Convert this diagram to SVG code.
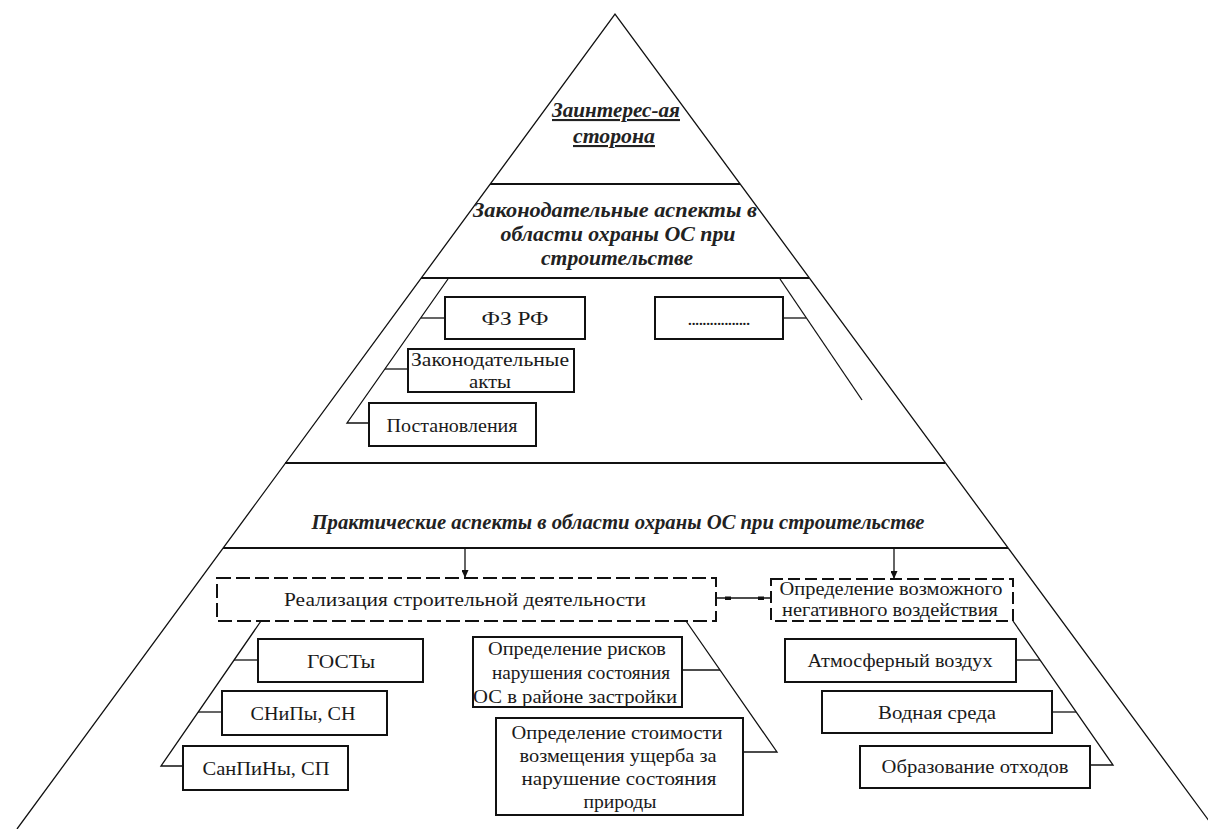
<svg xmlns="http://www.w3.org/2000/svg" width="1208" height="829" viewBox="0 0 1208 829" font-family="Liberation Serif, DejaVu Serif, serif">
<defs>
<style>
.edge{stroke:#111;stroke-width:1.3;fill:none}
.band{stroke:#111;stroke-width:1.8;fill:none}
.ln{stroke:#111;stroke-width:1.3;fill:none}
.box{fill:#fff;stroke:#111;stroke-width:2}
.dbox{fill:#fff;stroke:#111;stroke-width:2;stroke-dasharray:14 5}
.t{font-size:19px;fill:#1a1a1a;text-anchor:middle}
.h{font-style:italic;font-weight:bold;font-size:21px;fill:#222;text-anchor:middle}
.u{text-decoration:underline}
</style>
<marker id="arr" viewBox="0 0 8 7" refX="8" refY="3.5" markerWidth="8" markerHeight="7" markerUnits="userSpaceOnUse" orient="auto">
<path d="M0,0 L8,3.5 L0,7 z" fill="#111"/>
</marker>
</defs>
<rect width="1208" height="829" fill="#fff"/>

<g id="pyramid">
<path class="edge" d="M17,829 L615,14 L1215,829"/>
<line class="band" x1="490" y1="184" x2="740" y2="184"/>
<line class="band" x1="421" y1="278" x2="809" y2="278"/>
<line class="band" x1="285" y1="463" x2="945" y2="463"/>
<line class="band" x1="223" y1="548" x2="1008" y2="548"/>
</g>

<g id="top">
<text class="h u" x="616" y="117" textLength="128" lengthAdjust="spacingAndGlyphs">Заинтерес-ая</text>
<text class="h u" x="614" y="143" textLength="82" lengthAdjust="spacingAndGlyphs">сторона</text>
</g>

<g id="legal">
<text class="h" x="615" y="217" textLength="284" lengthAdjust="spacingAndGlyphs">Законодательные аспекты в</text>
<text class="h" x="618" y="241" textLength="235" lengthAdjust="spacingAndGlyphs">области охраны ОС при</text>
<text class="h" x="617" y="265" textLength="152" lengthAdjust="spacingAndGlyphs">строительстве</text>
</g>

<g id="practical">
<text class="h" x="618" y="529" font-size="22" textLength="613" lengthAdjust="spacingAndGlyphs">Практические аспекты в области охраны ОС при строительстве</text>
</g>

<g id="connectors">
<path class="ln" d="M448,279 L347,423 L369,423"/>
<line class="ln" x1="421" y1="318" x2="445" y2="318"/>
<line class="ln" x1="385" y1="369" x2="408" y2="369"/>
<path class="ln" d="M780,279 L862,400"/>
<line class="ln" x1="783" y1="318" x2="806" y2="318"/>

<line class="ln" x1="465" y1="548" x2="465" y2="578" marker-end="url(#arr)"/>
<line class="ln" x1="894" y1="548" x2="894" y2="579" marker-end="url(#arr)"/>
<line class="ln" x1="716" y1="598" x2="771" y2="598"/>
<rect x="725" y="596.5" width="6" height="3.5" fill="#111"/>
<rect x="758" y="596.5" width="6" height="3.5" fill="#111"/>

<path class="ln" d="M261,621 L161,766 L183,766"/>
<line class="ln" x1="234" y1="660" x2="258" y2="660"/>
<line class="ln" x1="198" y1="712" x2="222" y2="712"/>

<path class="ln" d="M686,621 L777,752 L743,752"/>
<line class="ln" x1="682" y1="670" x2="720" y2="670"/>

<path class="ln" d="M1013,621 L1113,765 L1090,765"/>
<line class="ln" x1="1016" y1="660" x2="1040" y2="660"/>
<line class="ln" x1="1052" y1="712" x2="1076" y2="712"/>
</g>

<g id="fz">
<rect class="box" x="445" y="297" width="140" height="42"/>
<text class="t" x="515" y="325" textLength="67" lengthAdjust="spacingAndGlyphs">ФЗ РФ</text>
</g>
<g id="zakon">
<rect class="box" x="408" y="349" width="166" height="43"/>
<text class="t" x="490" y="366" textLength="158" lengthAdjust="spacingAndGlyphs">Законодательные</text>
<text class="t" x="490" y="388" textLength="42" lengthAdjust="spacingAndGlyphs">акты</text>
</g>
<g id="postanov">
<rect class="box" x="369" y="403" width="167" height="43"/>
<text class="t" x="452" y="432" textLength="131" lengthAdjust="spacingAndGlyphs">Постановления</text>
</g>
<g id="dots">
<rect class="box" x="655" y="297" width="128" height="42"/>
<text class="t" x="719" y="325" font-size="14" fill="#666" textLength="63" lengthAdjust="spacing">.................</text>
</g>

<g id="realiz">
<rect class="dbox" x="217" y="578" width="499" height="43"/>
<text class="t" x="465" y="606" textLength="362" lengthAdjust="spacingAndGlyphs">Реализация строительной деятельности</text>
</g>
<g id="opred">
<rect class="dbox" x="771" y="579" width="242" height="42" style="stroke-dasharray:12 5"/>
<text class="t" x="891" y="595" font-size="17" textLength="223" lengthAdjust="spacingAndGlyphs">Определение возможного</text>
<text class="t" x="890" y="616" font-size="17" textLength="216" lengthAdjust="spacingAndGlyphs">негативного воздействия</text>
</g>

<g id="gost">
<rect class="box" x="258" y="639" width="165" height="43"/>
<text class="t" x="341" y="668" textLength="68" lengthAdjust="spacingAndGlyphs">ГОСТы</text>
</g>
<g id="snip">
<rect class="box" x="222" y="691" width="165" height="44"/>
<text class="t" x="303" y="720" textLength="105" lengthAdjust="spacingAndGlyphs">СНиПы, СН</text>
</g>
<g id="sanpin">
<rect class="box" x="183" y="746" width="165" height="44"/>
<text class="t" x="266" y="775" textLength="127" lengthAdjust="spacingAndGlyphs">СанПиНы, СП</text>
</g>

<g id="risk">
<rect class="box" x="473" y="637" width="209" height="70"/>
<text class="t" x="577" y="655" textLength="178" lengthAdjust="spacingAndGlyphs">Определение рисков</text>
<text class="t" x="581" y="679" textLength="178" lengthAdjust="spacingAndGlyphs">нарушения состояния</text>
<text class="t" x="575" y="703" textLength="204" lengthAdjust="spacingAndGlyphs">ОС в районе застройки</text>
</g>
<g id="cost">
<rect class="box" x="496" y="718" width="247" height="97"/>
<text class="t" x="617" y="739" textLength="211" lengthAdjust="spacingAndGlyphs">Определение стоимости</text>
<text class="t" x="618" y="762" textLength="197" lengthAdjust="spacingAndGlyphs">возмещения ущерба за</text>
<text class="t" x="619" y="785" textLength="195" lengthAdjust="spacingAndGlyphs">нарушение состояния</text>
<text class="t" x="620" y="808" textLength="73" lengthAdjust="spacingAndGlyphs">природы</text>
</g>

<g id="air">
<rect class="box" x="785" y="639" width="231" height="43"/>
<text class="t" x="900" y="667" textLength="185" lengthAdjust="spacingAndGlyphs">Атмосферный воздух</text>
</g>
<g id="water">
<rect class="box" x="822" y="691" width="230" height="42"/>
<text class="t" x="937" y="719" textLength="118" lengthAdjust="spacingAndGlyphs">Водная среда</text>
</g>
<g id="waste">
<rect class="box" x="860" y="746" width="230" height="42"/>
<text class="t" x="975" y="773" textLength="187" lengthAdjust="spacingAndGlyphs">Образование отходов</text>
</g>
</svg>
